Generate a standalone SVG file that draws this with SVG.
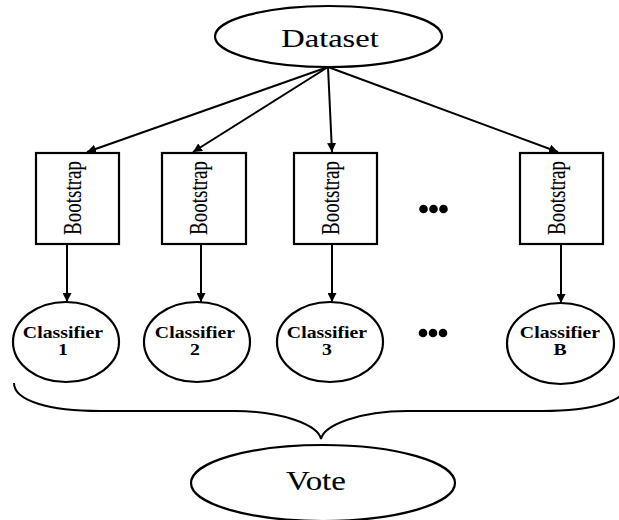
<svg xmlns="http://www.w3.org/2000/svg" width="619" height="520" viewBox="0 0 619 520">
  <defs>
    <marker id="arrow" viewBox="0 0 10 10" refX="10" refY="5" markerWidth="4.5" markerHeight="4.5" orient="auto" markerUnits="strokeWidth">
      <path d="M0,0 L10,5 L0,10 z" fill="#000"/>
    </marker>
    <style>
      .shape { fill: #fff; stroke: #000; stroke-width: 2.2; }
      .edge { fill: none; stroke: #000; stroke-width: 2; marker-end: url(#arrow); }
      .big { font-family: "Liberation Serif", "Times New Roman", serif; font-size: 26px; fill: #000; stroke: #000; stroke-width: 0.1; text-anchor: middle; }
      .vote { font-family: "Liberation Serif", "Times New Roman", serif; font-size: 27px; fill: #000; stroke: #000; stroke-width: 0.1; text-anchor: middle; }
      .boot { font-family: "Liberation Serif", "Times New Roman", serif; font-size: 19px; fill: #000; stroke: #000; stroke-width: 0.1; text-anchor: middle; }
      .cls { font-family: "Liberation Serif", "Times New Roman", serif; font-size: 16.5px; font-weight: bold; fill: #000; text-anchor: middle; }
      .dot { fill: #000; }
    </style>
  </defs>

  <rect width="619" height="520" fill="#fff"/>

  <!-- connectors -->
  <g id="connectors">
    <line class="edge" x1="328" y1="67" x2="87" y2="152"/>
    <line class="edge" x1="328" y1="67" x2="193" y2="152"/>
    <line class="edge" x1="328" y1="67" x2="332" y2="152"/>
    <line class="edge" x1="328" y1="67" x2="558" y2="152"/>
    <line class="edge" x1="67" y1="244" x2="67" y2="302"/>
    <line class="edge" x1="201" y1="244" x2="201" y2="302"/>
    <line class="edge" x1="332" y1="244" x2="332" y2="302"/>
    <line class="edge" x1="561" y1="244" x2="561" y2="303"/>
    <!-- curly brace gathering the classifiers -->
    <path d="M14,383 C14,401 50,411 100,411 L235,411 C282,411 318,425 321,439 C324,425 360,411 407,411 L542,411 C592,411 628,401 628,383" fill="none" stroke="#000" stroke-width="2"/>
  </g>

  <g id="dataset">
    <ellipse class="shape" cx="328.5" cy="36.5" rx="113.5" ry="30.5"/>
    <text class="big" transform="translate(330,47) scale(1.25,1)">Dataset</text>
  </g>

  <g id="bootstrap1">
    <rect class="shape" x="36" y="153" width="83" height="91"/>
    <text class="boot" transform="translate(81,198) scale(1.3,1) rotate(-90)">Bootstrap</text>
  </g>
  <g id="bootstrap2">
    <rect class="shape" x="162" y="153" width="84" height="91"/>
    <text class="boot" transform="translate(206.5,198) scale(1.3,1) rotate(-90)">Bootstrap</text>
  </g>
  <g id="bootstrap3">
    <rect class="shape" x="294" y="153" width="83" height="91"/>
    <text class="boot" transform="translate(338.5,198) scale(1.3,1) rotate(-90)">Bootstrap</text>
  </g>
  <g id="bootstrap-b">
    <rect class="shape" x="520" y="153" width="83" height="91"/>
    <text class="boot" transform="translate(564.5,198) scale(1.3,1) rotate(-90)">Bootstrap</text>
  </g>

  <g id="ellipsis-top">
    <circle class="dot" cx="423.5" cy="209" r="4.3"/>
    <circle class="dot" cx="433.5" cy="209" r="4.3"/>
    <circle class="dot" cx="443.5" cy="209" r="4.3"/>
  </g>

  <g id="classifier1">
    <ellipse class="shape" cx="66" cy="342" rx="53" ry="40"/>
    <text class="cls" transform="translate(63,338) scale(1.2,1)">Classifier</text>
    <text class="cls" transform="translate(63,355) scale(1.2,1)">1</text>
  </g>
  <g id="classifier2">
    <ellipse class="shape" cx="197" cy="342" rx="53" ry="40"/>
    <text class="cls" transform="translate(195,338) scale(1.2,1)">Classifier</text>
    <text class="cls" transform="translate(195,355) scale(1.2,1)">2</text>
  </g>
  <g id="classifier3">
    <ellipse class="shape" cx="330" cy="342" rx="53" ry="40"/>
    <text class="cls" transform="translate(327,338) scale(1.2,1)">Classifier</text>
    <text class="cls" transform="translate(327,355) scale(1.2,1)">3</text>
  </g>
  <g id="classifier-b">
    <ellipse class="shape" cx="560.5" cy="343.5" rx="53.5" ry="40.5"/>
    <text class="cls" transform="translate(560,338) scale(1.2,1)">Classifier</text>
    <text class="cls" transform="translate(560,355) scale(1.2,1)">B</text>
  </g>

  <g id="ellipsis-bottom">
    <circle class="dot" cx="423" cy="333" r="4.3"/>
    <circle class="dot" cx="433" cy="333" r="4.3"/>
    <circle class="dot" cx="443" cy="333" r="4.3"/>
  </g>

  <g id="vote">
    <ellipse class="shape" cx="323" cy="483" rx="132" ry="38"/>
    <text class="vote" transform="translate(316,490) scale(1.22,1)">Vote</text>
  </g>
</svg>
